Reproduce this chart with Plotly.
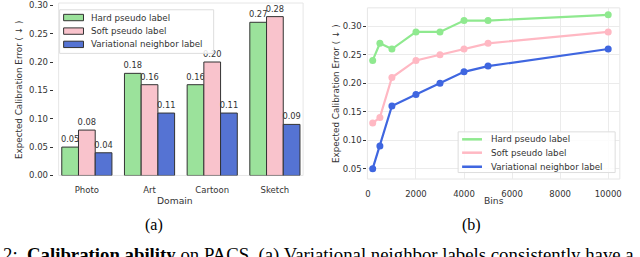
import plotly.graph_objects as go

W, H = 640, 257

# ---------------- data ----------------
domains = ["Photo", "Art", "Cartoon", "Sketch"]
series_names = ["Hard pseudo label", "Soft pseudo label", "Variational neighbor label"]
hard_bar = [0.05, 0.18, 0.16, 0.27]
soft_bar = [0.08, 0.16, 0.20, 0.28]
vnl_bar = [0.04, 0.11, 0.11, 0.09]

bins = [200, 500, 1000, 2000, 3000, 4000, 5000, 10000]
hard_line = [0.24, 0.27, 0.26, 0.29, 0.29, 0.31, 0.31, 0.32]
soft_line = [0.13, 0.14, 0.21, 0.24, 0.25, 0.26, 0.27, 0.29]
vnl_line = [0.05, 0.09, 0.16, 0.18, 0.20, 0.22, 0.23, 0.26]

y_ticks_a = [0.00, 0.05, 0.10, 0.15, 0.20, 0.25, 0.30]
y_ticks_b = [0.05, 0.10, 0.15, 0.20, 0.25, 0.30]
x_ticks_b = [0, 2000, 4000, 6000, 8000, 10000]

bar_colors = ["#9be29b", "#f9c3cc", "#5573d3"]
line_colors = ["#8fe98f", "#ffb8c3", "#3f66e0"]

FONT = "DejaVu Sans"
SERIF = "Liberation Serif"


def fx(px):
    return px / W


def fy(py):
    return 1 - py / H


fig = go.Figure()

for name, vals, col in zip(series_names, [hard_bar, soft_bar, vnl_bar], bar_colors):
    fig.add_trace(go.Bar(
        x=domains, y=vals, name=name, marker=dict(color=col, line=dict(color="#333333", width=1)),
        text=[f"{v:.2f}" for v in vals], textposition="outside", constraintext="none",
        cliponaxis=False, textfont=dict(family=FONT, size=8.3, color="#333333"),
        xaxis="x", yaxis="y", showlegend=False,
    ))

for name, vals, col in zip(series_names, [hard_line, soft_line, vnl_line], line_colors):
    fig.add_trace(go.Scatter(
        x=bins, y=vals, name=name, mode="lines+markers",
        line=dict(color=col, width=2.2), marker=dict(color=col, size=7),
        xaxis="x2", yaxis="y2", showlegend=False,
    ))

tickfont = dict(family=FONT, size=8.5, color="#333333")

fig.update_layout(
    width=W, height=H, margin=dict(l=0, r=0, t=0, b=0),
    paper_bgcolor="white", plot_bgcolor="white",
    barmode="group", bargap=0.2, bargroupgap=0,
    font=dict(family=FONT, color="#333333"),
    xaxis=dict(domain=[fx(57), fx(303)], range=[-0.45, 3.45], showgrid=False, zeroline=False,
               ticks="", tickfont=tickfont, anchor="y", ticklabelstandoff=8),
    yaxis=dict(domain=[fy(178), fy(0)], range=[0, 0.304], tickvals=y_ticks_a,
               ticktext=[f"{v:.2f}" for v in y_ticks_a], showgrid=False, zeroline=False,
               ticks="outside", ticklen=3, tickcolor="#333333", tickwidth=1,
               tickfont=tickfont, anchor="free", position=fx(51), ticklabeloverflow="allow"),
    xaxis2=dict(domain=[fx(367.7), fx(621.7)], range=[-20, 10483], tickvals=x_ticks_b,
                ticktext=[str(v) for v in x_ticks_b],
                showgrid=True, gridcolor="#ebebeb", gridwidth=1, zeroline=False,
                ticks="", tickfont=tickfont, anchor="y2", ticklabelstandoff=8),
    yaxis2=dict(domain=[fy(181.7), fy(5)], range=[0.0318, 0.3323], tickvals=y_ticks_b,
                ticktext=[f"{v:.2f}" for v in y_ticks_b],
                showgrid=True, gridcolor="#ebebeb", gridwidth=1, zeroline=False,
                ticks="outside", ticklen=3, tickcolor="#333333", tickwidth=1,
                tickfont=tickfont, anchor="x2"),
)

shapes = []
# plot borders
for xr, yr in [("x domain", "y domain"), ("x2 domain", "y2 domain")]:
    shapes.append(dict(type="rect", xref=xr, yref=yr, x0=0, x1=1, y0=0, y1=1,
                       line=dict(color="#e6e6e6", width=1), layer="below"))

ann = []


def text_at(text, px, py, size, family=FONT, color="#333333", xanchor="center", angle=0):
    ann.append(dict(text=text, x=fx(px), y=fy(py), xref="paper", yref="paper",
                    xanchor=xanchor, yanchor="middle", textangle=angle, showarrow=False,
                    font=dict(family=family, size=size, color=color)))


# axis titles
text_at("Domain", 174, 204, 9.2)
text_at("Bins", 495, 204, 9.2)
ytitle = "Expected Calibration Error ( \u2193 )"
text_at(ytitle, 17, 89, 8.8, angle=-90)
text_at(ytitle, 336, 93, 8.8, angle=-90)

# legend (a)
shapes.append(dict(type="rect", xref="paper", yref="paper", x0=fx(58), x1=fx(213), y0=fy(52), y1=fy(7),
                   line=dict(color="#dddddd", width=1), fillcolor="rgba(255,255,255,0.85)"))
leg_y_a = [15, 29, 42.7]
for name, col, yy in zip(series_names, bar_colors, leg_y_a):
    shapes.append(dict(type="rect", xref="paper", yref="paper", x0=fx(62), x1=fx(82),
                       y0=fy(yy + 3.3), y1=fy(yy - 3.3), fillcolor=col,
                       line=dict(color="#333333", width=1)))
    text_at(name, 88, yy, 8.7, xanchor="left")

# legend (b)
shapes.append(dict(type="rect", xref="paper", yref="paper", x0=fx(459), x1=fx(617), y0=fy(175), y1=fy(133),
                   line=dict(color="#dddddd", width=1), fillcolor="rgba(255,255,255,0.85)"))
leg_y_b = [140.7, 154.5, 169]
for name, col, yy in zip(series_names, line_colors, leg_y_b):
    shapes.append(dict(type="line", xref="paper", yref="paper", x0=fx(463), x1=fx(483),
                       y0=fy(yy), y1=fy(yy), line=dict(color=col, width=2.5)))
    text_at(name, 490.5, yy, 8.7, xanchor="left")

# captions
text_at("(a)", 153, 229, 16, family=SERIF, color="black")
text_at("(b)", 472, 229, 16, family=SERIF, color="black")
text_at("2:  <b>Calibration ability</b> on PACS. (a) Variational neighbor labels consistently have a",
        -1, 260, 18.8, family=SERIF, color="black", xanchor="left")

fig.update_layout(shapes=shapes, annotations=ann)
fig.write_html("out.html", config={"displayModeBar": False},
               post_script="document.body.style.margin='0px';")
